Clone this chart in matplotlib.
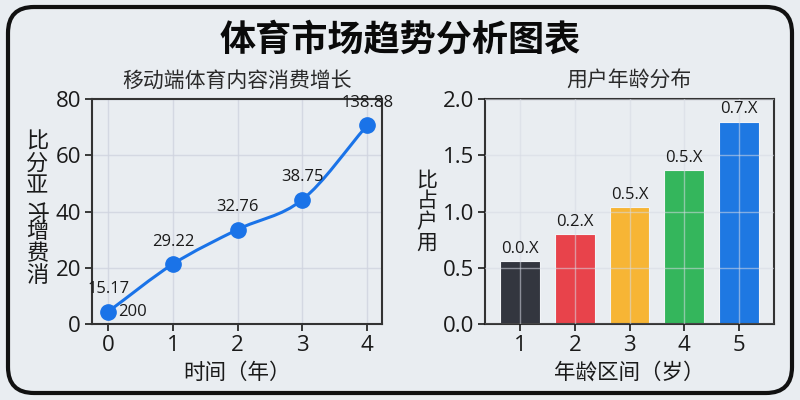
import matplotlib
matplotlib.use("Agg")
import matplotlib.pyplot as plt
from matplotlib.path import Path
from matplotlib.patches import PathPatch, FancyBboxPatch
from matplotlib.transforms import IdentityTransform
import numpy as np

plt.rcParams['font.family'] = ['Open Sans', 'Noto Sans CJK SC', 'DejaVu Sans']

# ---- data ----
years = [0, 1, 2, 3, 4]
growth = [4.4, 21.3, 33.6, 44.2, 70.6]
point_labels = ["15.17", "29.22", "32.76", "38.75", "138.88"]
first_extra = "200"

age_groups = [1, 2, 3, 4, 5]
share = [0.56, 0.80, 1.04, 1.37, 1.80]
bar_labels = ["0.0.X", "0.2.X", "0.5.X", "0.5.X", "0.7.X"]
bar_colors = ["#33363f", "#e8434b", "#f7b535", "#34b65c", "#1e78e2"]

title = "体育市场趋势分析图表"
left_title = "移动端体育内容消费增长"
right_title = "用户年龄分布"
left_xlabel = "时间（年）"
right_xlabel = "年龄区间（岁）"
left_ylabel_chars = ["比", "分", "亚", "长", "增", "费", "消"]
left_ylabel_rot = [0, 0, 0, 180, 0, 0, 0]
right_ylabel_chars = ["比", "占", "户", "用"]

bg = "#e9edf1"
line_color = "#1a73e8"
grid_color = "#cfd3df"
spine_color = "#333333"
text_color = "#1a1a1a"
cjk = ['Noto Sans CJK SC', 'DejaVu Sans']

fig = plt.figure(figsize=(8, 4), dpi=100, facecolor=bg)

# rounded border in pixel coords
border = FancyBboxPatch((8, 7), 784, 386, boxstyle="round,pad=0,rounding_size=26",
                        transform=IdentityTransform(), fill=False,
                        edgecolor="#111111", linewidth=3, zorder=0)
fig.patches.append(border)

fig.text(0.5, 1 - 40 / 400, title, ha="center", va="center", fontsize=26,
         fontweight="black", color="#0a0a0a", family=cjk)

def style_axes(ax):
    ax.set_facecolor(bg)
    for s in ax.spines.values():
        s.set_color(spine_color)
        s.set_linewidth(1.5)
    ax.tick_params(labelsize=16, colors=text_color, length=5, width=1.2, pad=3)
    ax.grid(True, color=grid_color, linewidth=1, alpha=0.8)

# ---- left: line ----
ax1 = fig.add_axes([92 / 800, 76 / 400, 290 / 800, 225 / 400])
style_axes(ax1)
ax1.set_axisbelow(True)
ax1.set_xlim(-0.25, 4.23)
ax1.set_ylim(0, 80)
ax1.set_xticks(years)
ax1.set_yticks([0, 20, 40, 60, 80])

# smooth curve via Catmull-Rom -> cubic Bezier path in data coords
pts = np.column_stack([years, growth]).astype(float)
ext = np.vstack([pts[0] - (pts[1] - pts[0]), pts, pts[-1] + (pts[-1] - pts[-2])])
verts = [tuple(pts[0])]
codes = [Path.MOVETO]
for i in range(1, len(ext) - 2):
    p0, p1, p2, p3 = ext[i - 1], ext[i], ext[i + 1], ext[i + 2]
    c1 = p1 + (p2 - p0) / 6.0
    c2 = p2 - (p3 - p1) / 6.0
    verts += [tuple(c1), tuple(c2), tuple(p2)]
    codes += [Path.CURVE4] * 3
ax1.add_patch(PathPatch(Path(verts, codes), fill=False, edgecolor=line_color,
                        linewidth=2.2, zorder=3))
ax1.plot(years, growth, linestyle="none", marker="o", markersize=11,
         color=line_color, zorder=4)
for x, y, lab in zip(years, growth, point_labels):
    ax1.annotate(lab, (x, y), xytext=(0, 16), textcoords="offset points",
                 ha="center", va="center", fontsize=12, color=text_color, zorder=5)
ax1.annotate(first_extra, (years[0], growth[0]), xytext=(7, 0), textcoords="offset points",
             ha="left", va="center", fontsize=12, color=text_color, zorder=5)

fig.text(237 / 800, 1 - 81 / 400, left_title, ha="center", va="center",
         fontsize=15, color="#2a2a2a", family=cjk)
fig.text(237 / 800, 1 - 373 / 400, left_xlabel, ha="center", va="center",
         fontsize=15.5, color=text_color, family=cjk)
for i, (ch, r) in enumerate(zip(left_ylabel_chars, left_ylabel_rot)):
    fig.text(37 / 800, 1 - (141 + i * 22.5) / 400, ch, ha="center", va="center",
             fontsize=16, rotation=r, color=text_color, family=cjk)

# ---- right: bars ----
ax2 = fig.add_axes([485 / 800, 76 / 400, 289 / 800, 225 / 400])
style_axes(ax2)
ax2.set_axisbelow(False)
ax2.grid(True, color="#d6dae4", linewidth=1, alpha=0.55)
ax2.bar(age_groups, share, width=0.73, color=bar_colors, edgecolor="#f2f4f7",
        linewidth=0.8, zorder=2)
ax2.set_xlim(0.36, 5.64)
ax2.set_ylim(0, 2.0)
ax2.set_xticks(age_groups)
ax2.set_yticks([0.0, 0.5, 1.0, 1.5, 2.0])
ax2.set_yticklabels(["0.0", "0.5", "1.0", "1.5", "2.0"])
for x, y, lab in zip(age_groups, share, bar_labels):
    ax2.annotate(lab, (x, y), xytext=(0, 3), textcoords="offset points",
                 ha="center", va="bottom", fontsize=12, color=text_color, zorder=5)

fig.text(629 / 800, 1 - 81 / 400, right_title, ha="center", va="center",
         fontsize=15, color="#2a2a2a", family=cjk)
fig.text(629 / 800, 1 - 373 / 400, right_xlabel, ha="center", va="center",
         fontsize=15.5, color=text_color, family=cjk)
for i, ch in enumerate(right_ylabel_chars):
    fig.text(427 / 800, 1 - (180 + i * 21) / 400, ch, ha="center", va="center",
             fontsize=15, color=text_color, family=cjk)

fig.savefig("out.png", dpi=100, facecolor=bg)
